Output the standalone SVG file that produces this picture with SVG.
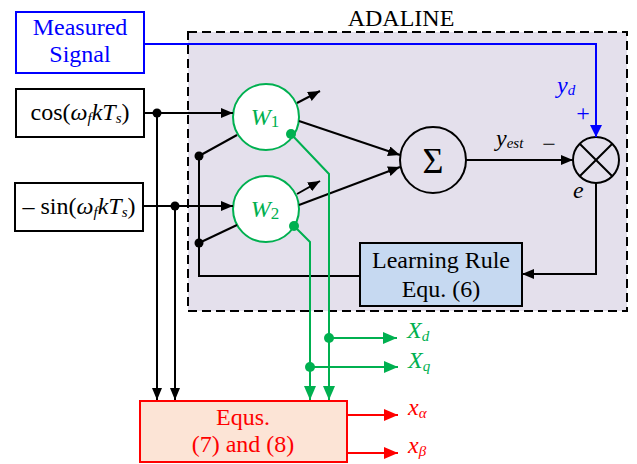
<svg xmlns="http://www.w3.org/2000/svg" width="637" height="464" viewBox="0 0 637 464">
<style>
text{font-family:"Liberation Serif","Times New Roman",serif;font-size:24px;}
.c{text-anchor:middle;}
.i{font-style:italic;}
.s{font-size:15px;}
.n{font-size:17px;}
.sig{font-size:36px;}
.k{stroke:#000;stroke-width:2;fill:none;}
.g{stroke:#00b050;stroke-width:2;fill:none;}
.b{stroke:#0000ff;stroke-width:2;fill:none;}
.r{stroke:#ff0000;stroke-width:2;fill:none;}
.box{fill:#fff;stroke:#000;stroke-width:2;}
.dk{fill:#000;}
.dg{fill:#00b050;}
</style>
<defs>
<marker id="ak" markerUnits="userSpaceOnUse" markerWidth="12" markerHeight="10" refX="12" refY="5" orient="auto"><path d="M0,0L12,5L0,10z" fill="#000"/></marker>
<marker id="ag" markerUnits="userSpaceOnUse" markerWidth="14" markerHeight="12" refX="14" refY="6" orient="auto"><path d="M0,0L14,6L0,12z" fill="#00b050"/></marker>
<marker id="ab" markerUnits="userSpaceOnUse" markerWidth="12" markerHeight="12" refX="12" refY="6" orient="auto"><path d="M0,0L12,6L0,12z" fill="#0000ff"/></marker>
<marker id="ar" markerUnits="userSpaceOnUse" markerWidth="14" markerHeight="12" refX="14" refY="6" orient="auto"><path d="M0,0L14,6L0,12z" fill="#ff0000"/></marker>
</defs>
<rect width="637" height="464" fill="#fff"/>

<g id="adaline">
<rect x="188" y="32" width="439" height="279" fill="#e4e0ec" stroke="#000" stroke-width="2" stroke-dasharray="9,5"/>
<text class="c" x="401" y="26">ADALINE</text>
</g>

<g id="measured">
<rect x="16" y="12" width="128" height="61" fill="#fff" stroke="#0000ff" stroke-width="2"/>
<text class="c" x="80" y="35" fill="#0000ff">Measured</text>
<text class="c" x="80" y="62" fill="#0000ff">Signal</text>
</g>

<g id="cos">
<rect class="box" x="16" y="89" width="128" height="48"/>
<text class="c" x="80" y="120">cos(<tspan class="i">ω</tspan><tspan class="i s" dy="3">f</tspan><tspan class="i" dy="-3">kT</tspan><tspan class="i s" dy="3">s</tspan><tspan dy="-3">)</tspan></text>
</g>

<g id="sin">
<rect class="box" x="15" y="183" width="128" height="48"/>
<text class="c" x="79" y="214">– sin(<tspan class="i">ω</tspan><tspan class="i s" dy="3">f</tspan><tspan class="i" dy="-3">kT</tspan><tspan class="i s" dy="3">s</tspan><tspan dy="-3">)</tspan></text>
</g>

<g id="w1">
<circle cx="266" cy="117" r="33" fill="#fff" stroke="#00b050" stroke-width="2"/>
<text class="c" x="265" y="125" fill="#00b050"><tspan class="i">W</tspan><tspan class="n" dy="2">1</tspan></text>
</g>

<g id="w2">
<circle cx="266" cy="209" r="33" fill="#fff" stroke="#00b050" stroke-width="2"/>
<text class="c" x="265" y="217" fill="#00b050"><tspan class="i">W</tspan><tspan class="n" dy="2">2</tspan></text>
</g>

<g id="sigma">
<circle cx="433" cy="160" r="33" fill="none" stroke="#000" stroke-width="2"/>
<text class="c sig" x="433" y="173">Σ</text>
</g>

<g id="summer">
<circle cx="596" cy="160" r="23" fill="none" stroke="#000" stroke-width="2"/>
<path class="k" d="M579.7,143.7L612.3,176.3M612.3,143.7L579.7,176.3"/>
</g>

<g id="learning">
<rect x="360" y="243" width="162" height="63" fill="#c6d9f1" stroke="#000" stroke-width="2"/>
<text class="c" x="441" y="268">Learning Rule</text>
<text class="c" x="441" y="297">Equ. (6)</text>
</g>

<g id="equs">
<rect x="140" y="401" width="207" height="61" fill="#fce4d6" stroke="#ff0000" stroke-width="2"/>
<text class="c" x="243" y="425" fill="#ff0000">Equs.</text>
<text class="c" x="243" y="452" fill="#ff0000">(7) and (8)</text>
</g>

<g id="connectors">
<path class="k" d="M144,113H233" marker-end="url(#ak)"/>
<path class="k" d="M157,113V400" marker-end="url(#ak)"/>
<path class="k" d="M143,206H233" marker-end="url(#ak)"/>
<path class="k" d="M175,206V400" marker-end="url(#ak)"/>
<path class="k" d="M199,156V276H360"/>
<path class="k" d="M199,156L237,135"/>
<path class="k" d="M199,243L237,225"/>
<path class="k" d="M297,103L320,91" marker-end="url(#ak)"/>
<path class="k" d="M297,194L320,181" marker-end="url(#ak)"/>
<path class="k" d="M299,121L400,155" marker-end="url(#ak)"/>
<path class="k" d="M299,205L400,167" marker-end="url(#ak)"/>
<path class="k" d="M466,160H573" marker-end="url(#ak)"/>
<path class="b" d="M144,44H596V137" marker-end="url(#ab)"/>
<path class="k" d="M596,183V274H522" marker-end="url(#ak)"/>
<path class="g" d="M291,134L329,174V400" marker-end="url(#ag)"/>
<path class="g" d="M294,226L310,242V400" marker-end="url(#ag)"/>
<path class="g" d="M329,338H397" marker-end="url(#ag)"/>
<path class="g" d="M310,367H398" marker-end="url(#ag)"/>
<path class="r" d="M347,415H398" marker-end="url(#ar)"/>
<path class="r" d="M347,453H398" marker-end="url(#ar)"/>
<circle class="dk" cx="157" cy="113" r="4.5"/>
<circle class="dk" cx="175" cy="206" r="4.5"/>
<circle class="dk" cx="199" cy="156" r="4.5"/>
<circle class="dk" cx="199" cy="243" r="4.5"/>
<circle class="dg" cx="291" cy="134" r="5"/>
<circle class="dg" cx="294" cy="226" r="5"/>
<circle class="dg" cx="329" cy="338" r="5"/>
<circle class="dg" cx="310" cy="367" r="5"/>
</g>

<g id="labels">
<text x="557" y="93" fill="#0000ff"><tspan class="i">y</tspan><tspan class="i s" dy="2">d</tspan></text>
<text class="c" x="583" y="121" fill="#0000ff">+</text>
<text x="496" y="146"><tspan class="i">y</tspan><tspan class="i s" dy="2">est</tspan></text>
<text class="c" x="549" y="152">−</text>
<text class="i" x="573" y="198">e</text>
<text x="407" y="338" fill="#00b050"><tspan class="i">X</tspan><tspan class="i s" dy="3">d</tspan></text>
<text x="408" y="368" fill="#00b050"><tspan class="i">X</tspan><tspan class="i s" dy="3">q</tspan></text>
<text x="408" y="415" fill="#ff0000"><tspan class="i">x</tspan><tspan class="i s" dy="3">α</tspan></text>
<text x="408" y="453" fill="#ff0000"><tspan class="i">x</tspan><tspan class="i s" dy="3">β</tspan></text>
</g>
</svg>
